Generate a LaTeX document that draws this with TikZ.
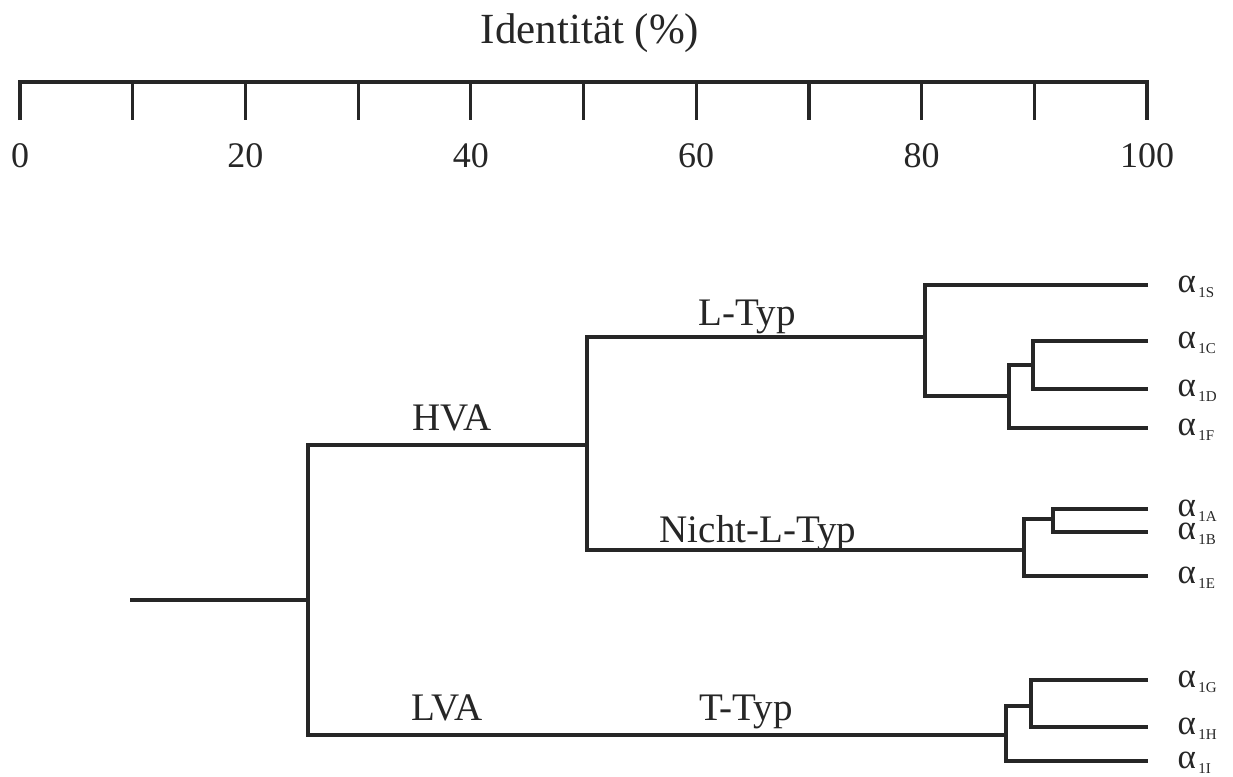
\documentclass[tikz,border=0pt]{standalone}
\usepackage{fontspec}
\setmainfont{Liberation Serif}
\begin{document}
\begin{tikzpicture}[x=1pt,y=-1pt,
  line width=3.2pt, line join=miter, color=black!85,
  lbl/.style={anchor=base, inner sep=0pt, font=\fontsize{39}{39}\selectfont, text=black!85},
  num/.style={anchor=base, inner sep=0pt, font=\fontsize{36}{36}\selectfont, text=black!85},
  leaf/.style={anchor=base west, inner sep=0pt, font=\fontsize{35}{35}\selectfont, text=black!85}]
\useasboundingbox (0,0) rectangle (1233,776);
% title and scale
\node[anchor=base, inner sep=0pt, font=\fontsize{43}{43}\selectfont, text=black!85] (title) at (590,44) {Identität (\%)};
\draw (20,120) -- (20,82) -- (1147,82) -- (1147,120);
\foreach \i in {1,...,9} { \draw ({20+112.7*\i},82) -- ({20+112.7*\i},120); }
\foreach \i/\v in {0/0,2/20,4/40,6/60,8/80,10/100} {
  \node[num] (n\v) at ({20+112.7*\i},167) {\v};
}
% leaf ends
\coordinate (S) at (1148,285);
\coordinate (C) at (1148,341);
\coordinate (D) at (1148,389);
\coordinate (F) at (1148,428);
\coordinate (A) at (1148,509);
\coordinate (B) at (1148,532);
\coordinate (E) at (1148,576);
\coordinate (G) at (1148,680);
\coordinate (H) at (1148,727);
\coordinate (I) at (1148,761);
% junctions
\coordinate (jCD) at (1033,365);
\coordinate (jCDF) at (1009,396);
\coordinate (jL) at (925,337);
\coordinate (jAB) at (1053,519);
\coordinate (jNL) at (1024,550);
\coordinate (jGH) at (1031,706);
\coordinate (jT) at (1006,735);
\coordinate (jHVA) at (587,445);
\coordinate (root) at (308,600);
\coordinate (r0) at (130,600);
% tree
\draw (C) -| (jCD) |- (D);
\draw (jCD) -| (jCDF) |- (F);
\draw (S) -| (jL) |- (jCDF);
\draw (A) -| (jAB) |- (B);
\draw (jAB) -| (jNL) |- (E);
\draw (jL) -| (jHVA) |- (jNL);
\draw (G) -| (jGH) |- (H);
\draw (jGH) -| (jT) |- (I);
\draw (jHVA) -| (root) |- (jT);
\draw (r0) -- (root);
% branch labels
\node[lbl] (hva) at (452,430) {HVA};
\node[lbl] (lva) at (447,720) {LVA};
\node[lbl] (ltyp) at (747,325) {L-Typ};
\node[lbl] (nltyp) at (758,542) {Nicht-L-Typ};
\node[lbl] (ttyp) at (746,720) {T-Typ};
% leaf labels
\newcommand{\alab}[1]{α\raisebox{-5pt}{\fontsize{15}{15}\selectfont\,#1}}
\foreach \n/\t/\y in {lS/1S/285,lC/1C/341,lD/1D/389,lF/1F/428,lA/1A/509,lB/1B/532,lE/1E/576,lG/1G/680,lH/1H/727,lI/1I/761} {
  \node[leaf] (\n) at (1176,\y+7) {\alab{\t}};
}
\end{tikzpicture}
\end{document}
